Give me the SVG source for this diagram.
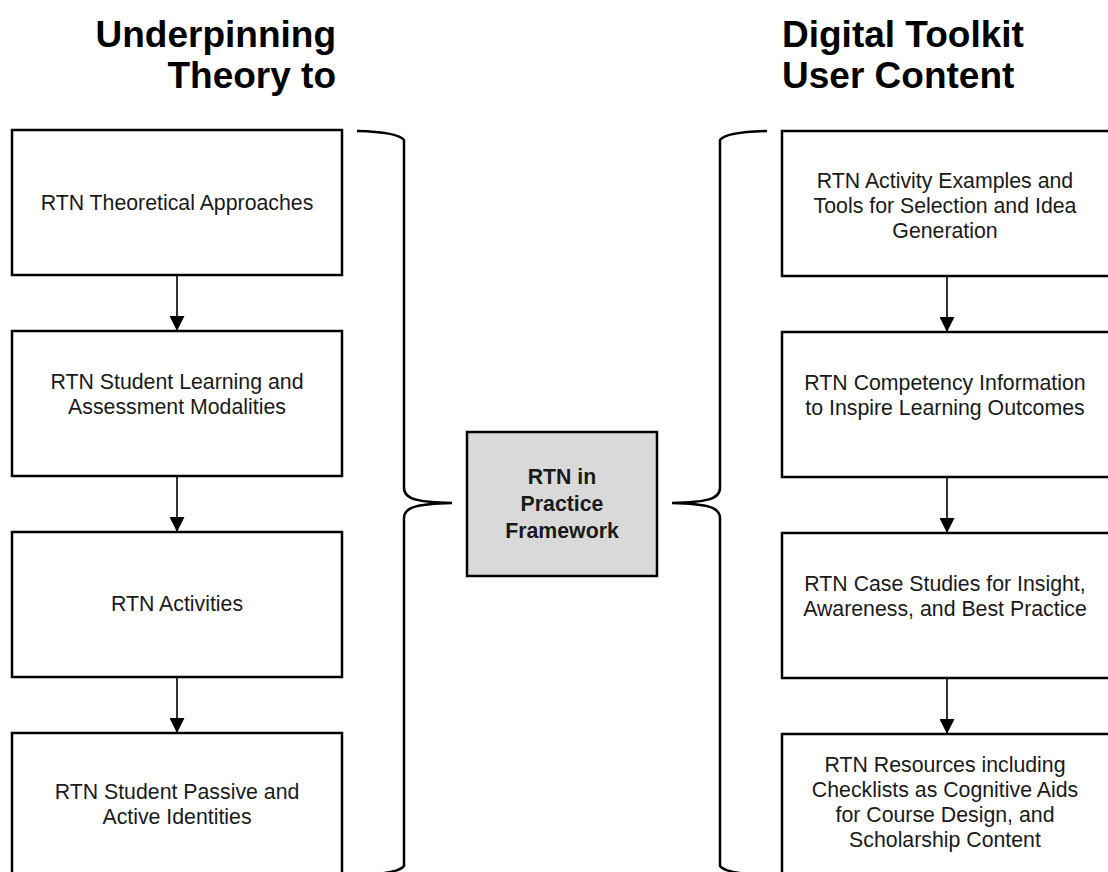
<svg xmlns="http://www.w3.org/2000/svg" width="1108" height="872" viewBox="0 0 1108 872">
<defs>
<marker id="ah" markerWidth="15" markerHeight="15" refX="15" refY="7.5" orient="auto" markerUnits="userSpaceOnUse">
<path d="M0,0 L15,7.5 L0,15 Z" fill="#000"/>
</marker>
<style>
.box{fill:#fff;stroke:#000;stroke-width:2.5}
.hub{fill:#d9d9d9;stroke:#000;stroke-width:2.5}
.t{font-family:"Liberation Sans",Arial,sans-serif;font-size:21.3px;fill:#1a1a1a;text-anchor:middle}
.tb{font-family:"Liberation Sans",Arial,sans-serif;font-size:21.3px;font-weight:bold;fill:#1a1a1a;text-anchor:middle}
.h{font-family:"Liberation Sans",Arial,sans-serif;font-size:37px;font-weight:bold;fill:#000}
.c{stroke:#000;stroke-width:1.6;fill:none}
.br{stroke:#000;stroke-width:2.5;fill:none}
</style>
</defs>
<rect width="1108" height="872" fill="#fff"/>
<g id="heading-left">
<text class="h" x="336" y="47" text-anchor="end">Underpinning</text>
<text class="h" x="336" y="88" text-anchor="end">Theory to</text>
</g>
<g id="heading-right">
<text class="h" x="782" y="47">Digital Toolkit</text>
<text class="h" x="782" y="88">User Content</text>
</g>
<g id="connectors">
<line class="c" x1="177" y1="275" x2="177" y2="331" marker-end="url(#ah)"/>
<line class="c" x1="177" y1="476" x2="177" y2="532" marker-end="url(#ah)"/>
<line class="c" x1="177" y1="677" x2="177" y2="733" marker-end="url(#ah)"/>
<line class="c" x1="947" y1="276" x2="947" y2="332" marker-end="url(#ah)"/>
<line class="c" x1="947" y1="477" x2="947" y2="533" marker-end="url(#ah)"/>
<line class="c" x1="947" y1="678" x2="947" y2="734" marker-end="url(#ah)"/>
<path id="brace-left" class="br" d="M357,131 Q398,132 404,140 L404,488 C404,500 420,502 452,503 C420,504 404,506 404,518 L404,866 Q398,874 357,875"/>
<path id="brace-right" class="br" d="M767,131 Q726,132 720,140 L720,488 C720,500 704,502 672,503 C704,504 720,506 720,518 L720,866 Q726,874 767,875"/>
</g>
<g id="node-l1">
<rect class="box" x="12" y="130" width="330" height="145"/>
<text class="t" x="177" y="210">RTN Theoretical Approaches</text>
</g>
<g id="node-l2">
<rect class="box" x="12" y="331" width="330" height="145"/>
<text class="t" x="177" y="389">RTN Student Learning and</text>
<text class="t" x="177" y="414">Assessment Modalities</text>
</g>
<g id="node-l3">
<rect class="box" x="12" y="532" width="330" height="145"/>
<text class="t" x="177" y="611">RTN Activities</text>
</g>
<g id="node-l4">
<rect class="box" x="12" y="733" width="330" height="145"/>
<text class="t" x="177" y="799">RTN Student Passive and</text>
<text class="t" x="177" y="824">Active Identities</text>
</g>
<g id="node-hub">
<rect class="hub" x="467" y="432" width="190" height="144"/>
<text class="tb" x="562" y="484">RTN in</text>
<text class="tb" x="562" y="511">Practice</text>
<text class="tb" x="562" y="538">Framework</text>
</g>
<g id="node-r1">
<rect class="box" x="782" y="131" width="330" height="145"/>
<text class="t" x="945" y="188">RTN Activity Examples and</text>
<text class="t" x="945" y="213">Tools for Selection and Idea</text>
<text class="t" x="945" y="238">Generation</text>
</g>
<g id="node-r2">
<rect class="box" x="782" y="332" width="330" height="145"/>
<text class="t" x="945" y="390">RTN Competency Information</text>
<text class="t" x="945" y="415">to Inspire Learning Outcomes</text>
</g>
<g id="node-r3">
<rect class="box" x="782" y="533" width="330" height="145"/>
<text class="t" x="945" y="591">RTN Case Studies for Insight,</text>
<text class="t" x="945" y="616">Awareness, and Best Practice</text>
</g>
<g id="node-r4">
<rect class="box" x="782" y="734" width="330" height="145"/>
<text class="t" x="945" y="772">RTN Resources including</text>
<text class="t" x="945" y="797">Checklists as Cognitive Aids</text>
<text class="t" x="945" y="822">for Course Design, and</text>
<text class="t" x="945" y="847">Scholarship Content</text>
</g>
</svg>
